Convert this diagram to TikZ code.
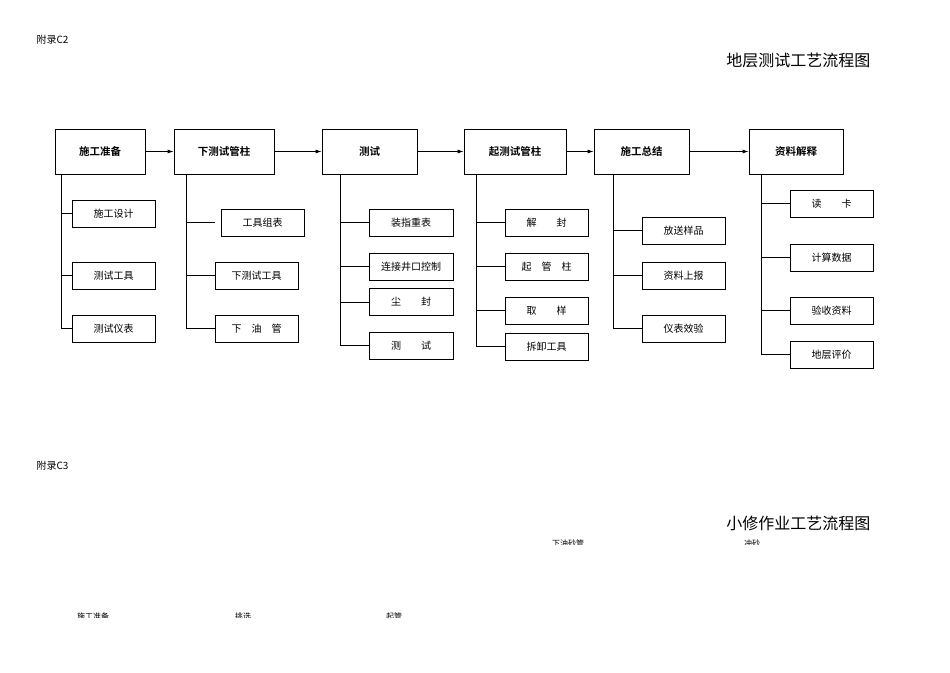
\documentclass[tikz,border=0pt]{standalone}
\usepackage{fontspec}
\newfontfamily\cjk{Noto Sans CJK SC}
\newfontfamily\cjkb{Noto Sans CJK SC Bold}
\usetikzlibrary{arrows.meta}
\begin{document}
\begin{tikzpicture}[x=1pt,y=-1pt,
 mainbox/.style={draw,line width=0.8pt,minimum width=#1,minimum height=45pt,font=\cjkb\fontsize{10.5}{12}\selectfont,inner sep=0pt},
 subbox/.style={draw,line width=0.7pt,minimum width=83pt,minimum height=27pt,font=\cjk\fontsize{10}{12}\selectfont,inner sep=0pt},
 flow/.style={-{Latex[length=6pt,width=4pt]},line width=0.8pt},
 trunk/.style={line width=0.7pt}]
\useasboundingbox (0,0) rectangle (950,672);
\node[anchor=west,font=\cjk\fontsize{10}{12}\selectfont] (t1) at (33,40) {附录C2};
\node[anchor=east,font=\cjk\fontsize{16}{18}\selectfont] (t2) at (874,60) {地层测试工艺流程图};
\node[anchor=west,font=\cjk\fontsize{10}{12}\selectfont] (t3) at (33,466) {附录C3};
\node[anchor=east,font=\cjk\fontsize{16}{18}\selectfont] (t4) at (874,523) {小修作业工艺流程图};
% main
\node[mainbox=90pt] (m1) at (100,151.5) {施工准备};
\node[mainbox=100pt] (m2) at (224,151.5) {下测试管柱};
\node[mainbox=95pt] (m3) at (369.5,151.5) {测试};
\node[mainbox=102pt] (m4) at (515,151.5) {起测试管柱};
\node[mainbox=95pt] (m5) at (641.5,151.5) {施工总结};
\node[mainbox=94pt] (m6) at (796,151.5) {资料解释};
\foreach \a/\b in {m1/m2,m2/m3,m3/m4,m4/m5,m5/m6} \draw[flow] (\a) -- (\b);
% col1
\node[subbox] (a1) at (113.5,213.5) {施工设计};
\node[subbox] (a2) at (113.5,275.5) {测试工具};
\node[subbox] (a3) at (113.5,328.5) {测试仪表};
\draw[trunk] (m1.south -| 61,0) |- (a3.west);
\draw[trunk] (61,0 |- a1) -- (a1.west); \draw[trunk] (61,0 |- a2) -- (a2.west);
% col2
\node[subbox] (b1) at (262.5,222.5) {工具组表};
\node[subbox] (b2) at (256.5,275.5) {下测试工具};
\node[subbox] (b3) at (256.5,328.5) {下\quad 油\quad 管};
\draw[trunk] (m2.south -| 186,0) |- (b3.west);
\draw[trunk] (186,0 |- b1) -- (215,0 |- b1); \draw[trunk] (186,0 |- b2) -- (b2.west);
% col3
\node[subbox,minimum width=84pt] (c1) at (411,222.5) {装指重表};
\node[subbox,minimum width=84pt] (c2) at (411,266.5) {连接井口控制};
\node[subbox,minimum width=84pt] (c3) at (411,302) {尘\qquad 封};
\node[subbox,minimum width=84pt] (c4) at (411,345.5) {测\qquad 试};
\draw[line width=1pt] (m3.south -| 340,0) |- (c4.west);
\foreach \n in {c1,c2,c3} \draw[trunk] (340,0 |- \n) -- (\n.west);
% col4
\node[subbox] (d1) at (546.5,222.5) {解\qquad 封};
\node[subbox] (d2) at (546.5,266.5) {起\quad 管\quad 柱};
\node[subbox] (d3) at (546.5,310.5) {取\qquad 样};
\node[subbox] (d4) at (546.5,346.5) {拆卸工具};
\draw[trunk] (m4.south -| 476,0) |- (d4.west);
\foreach \n in {d1,d2,d3} \draw[trunk] (476,0 |- \n) -- (\n.west);
% col5
\node[subbox] (e1) at (683.5,230.5) {放送样品};
\node[subbox] (e2) at (683.5,275.5) {资料上报};
\node[subbox] (e3) at (683.5,328.5) {仪表效验};
\draw[trunk] (m5.south -| 613,0) |- (e3.west);
\foreach \n in {e1,e2} \draw[trunk] (613,0 |- \n) -- (\n.west);
% col6
\node[subbox] (f1) at (831.5,203.5) {读\qquad 卡};
\node[subbox] (f2) at (831.5,257.5) {计算数据};
\node[subbox] (f3) at (831.5,310.5) {验收资料};
\node[subbox] (f4) at (831.5,354.5) {地层评价};
\draw[trunk] (m6.south -| 761,0) |- (f4.west);
\foreach \n in {f1,f2,f3} \draw[trunk] (761,0 |- \n) -- (\n.west);
% clipped labels
\begin{scope}
\clip (0,530) rectangle (950,544);
\node[font=\cjk\fontsize{8}{10}\selectfont] (g1) at (568,543) {下油砂管};
\node[font=\cjk\fontsize{8}{10}\selectfont] (g2) at (752,543) {冲砂};
\end{scope}
\begin{scope}
\clip (0,605) rectangle (950,617);
\node[font=\cjk\fontsize{8}{10}\selectfont] (g3) at (93,616) {施工准备};
\node[font=\cjk\fontsize{8}{10}\selectfont] (g4) at (243,616) {挑选};
\node[font=\cjk\fontsize{8}{10}\selectfont] (g5) at (394,616) {起管};
\end{scope}
\end{tikzpicture}
\end{document}
